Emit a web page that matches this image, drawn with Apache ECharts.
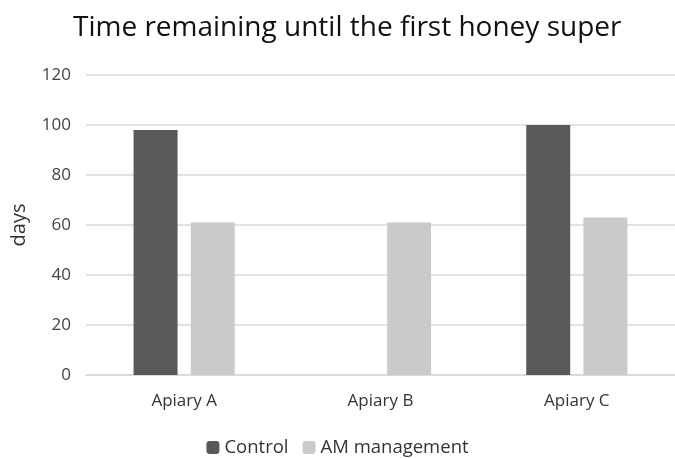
<!DOCTYPE html>
<html><head><meta charset="utf-8">
<script src="https://cdn.jsdelivr.net/npm/echarts@6/dist/echarts.min.js"></script>
<style>html,body{margin:0;padding:0;background:#fff}#c{width:675px;height:459px}</style>
</head><body><div id="c"></div>
<script>
const categories = ["Apiary A", "Apiary B", "Apiary C"];
const controlValues = [98, null, 100];
const amValues = [61, 61, 63];
const yTicks = [0, 20, 40, 60, 80, 100, 120];
const seriesNames = ["Control", "AM management"];

const font = "Open Sans";
const chart = echarts.init(document.getElementById('c'));
chart.setOption({
  backgroundColor: '#fff',
  animation: false,
  title: {
    text: 'Time remaining until the first honey super',
    left: 68, top: 9,
    textStyle: { fontFamily: font, fontSize: 28, fontWeight: 'normal', color: '#111' }
  },
  legend: {
    data: seriesNames, top: 433, left: 'center',
    itemWidth: 13, itemHeight: 13, itemGap: 14,
    textStyle: { fontFamily: font, fontSize: 18.5, color: '#333' }
  },
  grid: { left: 86, top: 75, width: 600, height: 300 },
  xAxis: {
    type: 'category', data: categories,
    axisLine: { show: true, lineStyle: { color: '#d9d9d9', width: 1.5 } },
    axisTick: { show: false },
    axisLabel: { fontFamily: font, fontSize: 17, color: '#333', margin: 18 }
  },
  yAxis: {
    type: 'value', min: yTicks[0], max: yTicks[yTicks.length - 1], interval: 20,
    name: 'days', nameLocation: 'middle', nameGap: 57,
    nameTextStyle: { fontFamily: font, fontSize: 20, color: '#333' },
    axisLine: { show: false }, axisTick: { show: false },
    axisLabel: { fontFamily: font, fontSize: 17, color: '#444', margin: 15 },
    splitLine: { lineStyle: { color: '#d9d9d9', width: 1.5 } }
  },
  series: [
    { name: seriesNames[0], type: 'bar', data: controlValues, barWidth: 44, barGap: '30%',
      itemStyle: { color: '#595959' } },
    { name: seriesNames[1], type: 'bar', data: amValues, barWidth: 44,
      itemStyle: { color: '#cacaca' } }
  ]
});
</script></body></html>
